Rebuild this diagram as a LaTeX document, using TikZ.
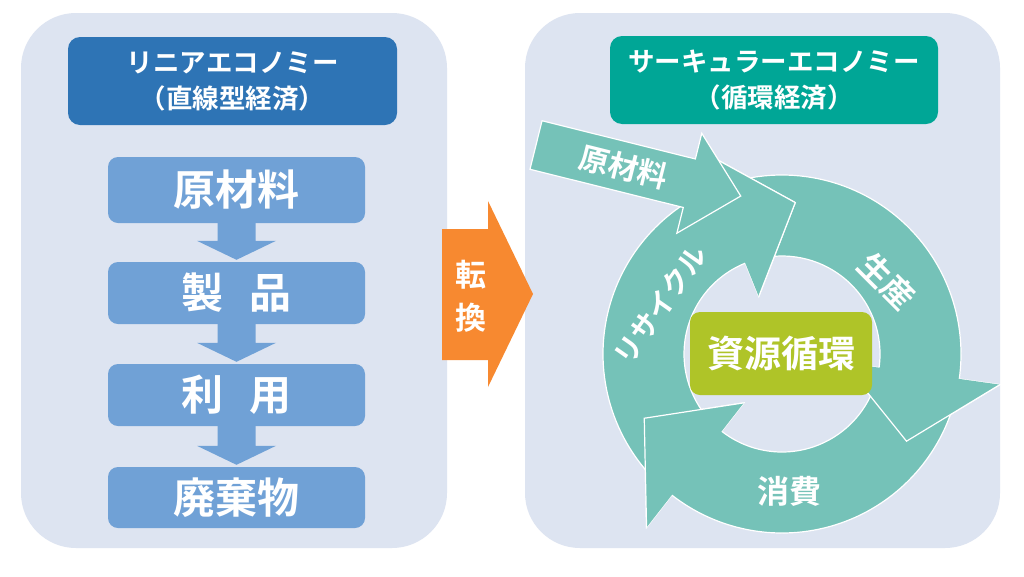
\documentclass[tikz,border=0pt]{standalone}
\usepackage{fontspec}
\newfontfamily\jp{Noto Sans CJK JP}[BoldFont={Noto Sans CJK JP Bold}]
\usetikzlibrary{calc}
\definecolor{panelbg}{RGB}{221,228,241}
\definecolor{lhead}{RGB}{46,116,181}
\definecolor{lbox}{RGB}{112,161,214}
\definecolor{orangec}{RGB}{247,137,48}
\definecolor{rhead}{RGB}{0,166,150}
\definecolor{ringc}{RGB}{117,194,184}
\definecolor{corec}{RGB}{175,196,40}
\tikzset{
  panel/.style={fill=panelbg, rounded corners=55pt, inner sep=0pt, draw=none},
  headbox/.style={rounded corners=12pt, inner sep=0pt, text=white, align=center,
    font=\jp\bfseries\fontsize{26.5}{36}\selectfont},
  stepbox/.style={fill=lbox, rounded corners=10pt, inner sep=0pt, text=white,
    minimum width=257pt, font=\jp\bfseries\fontsize{42}{42}\selectfont},
  downarrow/.style={fill=lbox},
  ringarrow/.style={fill=ringc, draw=white, line width=1.2pt, line join=miter},
  ringhead/.style={fill=ringc},
  ringedge/.style={draw=white, line width=1.2pt, line join=miter},
  ringtext/.style={text=white, inner sep=0pt},
}
\begin{document}
\begin{tikzpicture}[x=1pt, y=-1pt, font=\jp\bfseries]
\useasboundingbox (0,0) rectangle (1024,576);
\fill[white] (0,0) rectangle (1024,576);

% panels
\node[panel, minimum width=426pt, minimum height=535pt] (lpanel) at (234,280.5) {};
\node[panel, minimum width=475pt, minimum height=535pt] (rpanel) at (762.5,280.5) {};

% headers
\node[headbox, fill=lhead, minimum width=329pt, minimum height=88pt] (lhdr) at (232.5,81)
  {リニアエコノミー\\（直線型経済）};
\node[headbox, fill=rhead, minimum width=328pt, minimum height=88pt] (rhdr) at (774,80)
  {サーキュラーエコノミー\\（循環経済）};

% linear steps
\node[stepbox, minimum height=66pt] (raw) at (236.5,190) {原材料};
\node[stepbox, minimum height=62pt] (prod) at (236.5,293) {製\hspace{26pt}品};
\node[stepbox, minimum height=62pt] (use) at (236.5,395) {利\hspace{26pt}用};
\node[stepbox, minimum height=61pt] (waste) at (236.5,497.5) {廃棄物};

\foreach \a/\b in {raw/prod, prod/use, use/waste}{
  \fill[downarrow] ($(\a.south)+(-19,-1)$) -- ($(\b.north)+(-19,-21)$)
    -- ($(\b.north)+(-39.5,-21)$) -- ($(\b.north)+(0,-2)$)
    -- ($(\b.north)+(39.5,-21)$) -- ($(\b.north)+(19,-21)$)
    -- ($(\a.south)+(19,-1)$) -- cycle;
}

% conversion arrow
\fill[orangec] (442,229) -- (488,229) -- (488,201) -- (533,294) -- (488,387)
  -- (488,360) -- (442,360) -- cycle;
\node[text=white, align=center, inner sep=0pt,
  font=\jp\bfseries\fontsize{31}{43}\selectfont] (conv) at (471,296) {転\\換};

% circular arrows
\begin{scope}[shift={(782,354)}, yscale=-1]
  % production
  \path[ringarrow] (105:179) arc[start angle=105, end angle=-8, radius=179]
    -- (-8:220) -- (-35:152) -- (-8:62) -- (-8:98)
    arc[start angle=-8, end angle=105, radius=98] -- cycle;
  % consumption
  \path[ringarrow] (-15:179) arc[start angle=-15, end angle=-128, radius=179]
    -- (-128:220) -- (-155:152) -- (-128:62) -- (-128:98)
    arc[start angle=-128, end angle=-15, radius=98] -- cycle;
  % recycling
  \path[ringarrow] (225:179) arc[start angle=225, end angle=112, radius=179]
    -- (112:220) -- (85:152) -- (112:62) -- (112:98)
    arc[start angle=112, end angle=225, radius=98] -- cycle;
  % heads on top of the following tails
  \foreach \b in {-8,-128,112}{
    \pgfmathsetmacro{\t}{\b-27}
    \fill[ringhead] (\b:220) -- (\t:152) -- (\b:62) -- cycle;
    \draw[ringedge] (\b:220) -- (\t:152) -- (\b:62);
  }
\end{scope}

% raw material input arrow
\begin{scope}[shift={(536,145)}, rotate=-14]
  \path[ringarrow] (0,-25) -- (158,-25) -- (158,-51.5) -- (211,0) -- (158,51.5)
    -- (158,25) -- (0,25) -- cycle;
\end{scope}

% centre
\node[fill=corec, rounded corners=10pt, minimum width=182pt, minimum height=83pt,
  inner sep=0pt, text=white, font=\jp\bfseries\fontsize{37}{37}\selectfont]
  (core) at (781,353.5) {資源循環};

% ring labels
\node[ringtext, rotate=-14, font=\jp\bfseries\fontsize{30}{30}\selectfont] (rawr) at (624,167) {原材料};
\node[ringtext, rotate=-45, font=\jp\bfseries\fontsize{32}{32}\selectfont] (seisan) at (887,281) {生産};
\node[ringtext, font=\jp\bfseries\fontsize{32}{32}\selectfont] (shohi) at (789,491) {消費};
\node[ringtext, rotate=55, font=\jp\bfseries\fontsize{28}{28}\selectfont] (recyc) at (660,305) {リサイクル};
\end{tikzpicture}
\end{document}
